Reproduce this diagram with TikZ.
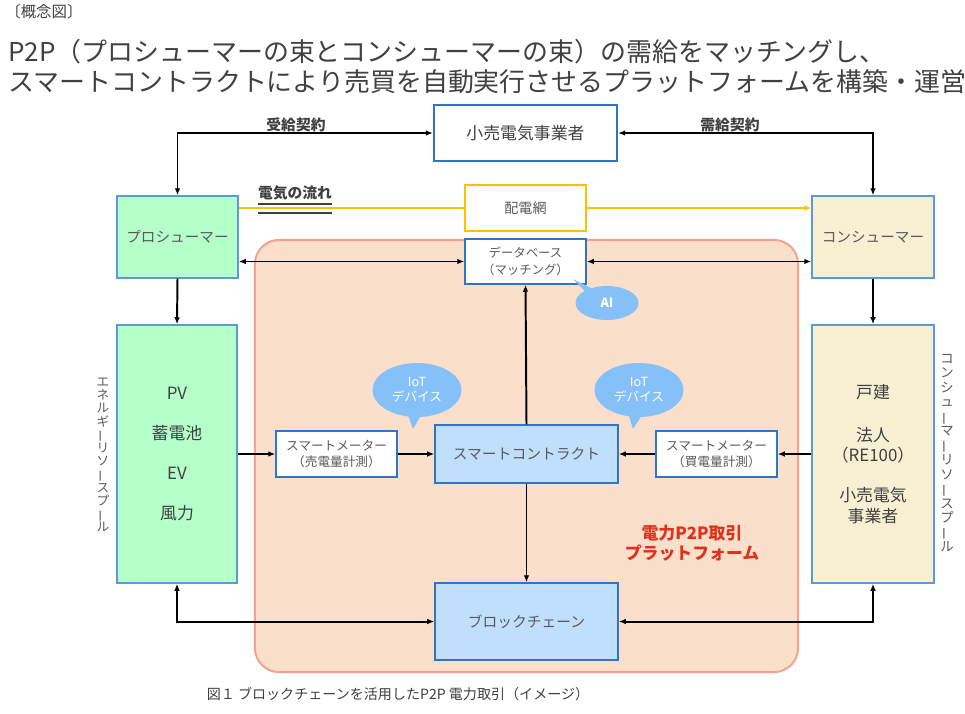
\documentclass[tikz,border=0pt]{standalone}
\usepackage{fontspec}
\setmainfont{Noto Sans CJK JP}
\usetikzlibrary{arrows.meta,shapes.callouts}

\definecolor{boxblue}{RGB}{91,155,213}
\definecolor{darkblue}{RGB}{46,117,198}
\definecolor{prosgreen}{RGB}{180,255,202}
\definecolor{conscream}{RGB}{248,240,210}
\definecolor{platfill}{RGB}{250,223,203}
\definecolor{platedge}{RGB}{246,160,145}
\definecolor{chainblue}{RGB}{192,223,252}
\definecolor{bubble}{RGB}{134,192,248}
\definecolor{gridorange}{RGB}{255,192,0}
\definecolor{textgray}{RGB}{89,89,89}
\definecolor{titlegray}{RGB}{64,64,64}
\definecolor{p2pred}{RGB}{222,50,30}

\newcommand{\choon}{\rotatebox[origin=c]{90}{ー}}

\begin{document}
\begin{tikzpicture}[x=0.025cm,y=-0.025cm,
    arr/.style={line width=1.4pt,-{Latex[length=5pt,width=4pt]}},
    biarr/.style={line width=1.4pt,{Latex[length=5pt,width=4pt]}-{Latex[length=5pt,width=4pt]}},
    box/.style={draw=boxblue,line width=1pt,text=textgray,align=center,inner sep=0pt},
    whitebox/.style={box,draw=darkblue,fill=white,minimum width=3.025cm,font=\fontsize{9}{11.4}\selectfont},
    bluebox/.style={box,draw=darkblue,fill=chainblue,minimum width=4.575cm,font=\fontsize{10.5}{12}\selectfont},
    iot/.style={ellipse callout,fill=bubble,text=white,inner sep=0pt,align=center,font=\fontsize{9}{10.7}\selectfont},
    lbl/.style={font=\bfseries\fontsize{10.5}{12}\selectfont,text=titlegray,inner sep=0pt},
    vlabel/.style={text=textgray,align=center,inner sep=0pt}]

\useasboundingbox (0,0) rectangle (965,713);

% Heading
\node[anchor=west,inner sep=0pt,font=\fontsize{11}{13}\selectfont,text=titlegray] (head) at (5,12) {〔概念図〕};
\node[anchor=north west,inner sep=0pt,align=left,font=\fontsize{18.45}{21.3}\selectfont,text=titlegray] (title) at (8,39)
  {P2P（プロシューマーの束とコンシューマーの束）の需給をマッチングし、\\スマートコントラクトにより売買を自動実行させるプラットフォームを構築・運営};

% Platform area
\node[draw=platedge,fill=platfill,line width=1.4pt,rounded corners=0.6cm,minimum width=13.575cm,minimum height=10.8cm] (plat) at (526.5,456) {};
\node[font=\bfseries\fontsize{12}{14.2}\selectfont,text=p2pred,align=center] (p2plbl) at (692,543) {電力P2P取引\\プラットフォーム};

% Boxes
\node[box,draw=darkblue,line width=1.6pt,minimum width=4.575cm,minimum height=1.4cm,font=\fontsize{12}{14}\selectfont,text=titlegray] (retail) at (525.5,133) {小売電気事業者};
\node[box,draw=gridorange,fill=white,minimum width=3.025cm,minimum height=1.15cm,font=\fontsize{10}{12}\selectfont] (grid) at (525.5,208) {配電網};
\node[box,fill=prosgreen,minimum width=3.025cm,minimum height=2.05cm,font=\fontsize{10.4}{12}\selectfont] (pros) at (177.5,237) {プロシューマー};
\node[box,fill=conscream,minimum width=3.05cm,minimum height=2.05cm,font=\fontsize{10.4}{12}\selectfont] (cons) at (873,237) {コンシューマー};
\node[whitebox,minimum height=1.125cm,font=\fontsize{8.8}{12}\selectfont] (db) at (525.5,261.5) {データベース\\（マッチング）};
\node[box,fill=prosgreen,minimum width=3cm,minimum height=6.45cm,font=\fontsize{12}{28.6}\selectfont,text=titlegray] (pvpool) at (177,454) {PV\\蓄電池\\EV\\風力};
\node[box,fill=conscream,minimum width=3.05cm,minimum height=6.45cm,font=\fontsize{12}{14.5}\selectfont,text=titlegray] (conspool) at (873,454)
  {戸建\\[16pt]法人\\（RE100）\\[14pt]小売電気\\事業者};
\node[whitebox,minimum height=1.15cm] (meterL) at (336.5,454) {スマートメーター\\（売電量計測）};
\node[whitebox,minimum height=1.15cm] (meterR) at (716.5,454) {スマートメーター\\（買電量計測）};
\node[bluebox,minimum height=1.45cm] (contract) at (526.5,454) {スマートコントラクト};
\node[bluebox,minimum height=1.925cm] (chain) at (526.5,621.5) {ブロックチェーン};

% Speech bubbles
\node[iot,minimum width=2.225cm,minimum height=1.35cm,callout absolute pointer={(413,429)}] (iotL) at (417,390) {IoT\\デバイス};
\node[iot,minimum width=2.225cm,minimum height=1.35cm,callout absolute pointer={(633,429)}] (iotR) at (639,390) {IoT\\デバイス};
\node[iot,minimum width=1.575cm,minimum height=0.85cm,font=\bfseries\fontsize{9}{10}\selectfont,callout absolute pointer={(573,279)}] (ai) at (607,303) {AI};

% Side labels
\node[vlabel,font=\fontsize{9}{9.4}\selectfont] (poolL) at (103,455) {エ\\ネ\\ル\\ギ\\\choon\\リ\\ソ\\\choon\\ス\\プ\\\choon\\ル};
\node[vlabel,font=\fontsize{9.5}{10.3}\selectfont] (poolR) at (947,453) {コ\\ン\\シ\\ュ\\\choon\\マ\\\choon\\リ\\ソ\\\choon\\ス\\プ\\\choon\\ル};

% Connector labels
\node[lbl] (recvlbl) at (296,125) {受給契約};
\node[lbl] (supplbl) at (730,125) {需給契約};
\node[lbl] (flowlbl) at (295,193) {電気の流れ};
\draw[titlegray,line width=1pt] ([yshift=-2.6pt]flowlbl.south west) -- ([yshift=-2.6pt]flowlbl.south east);
\draw[titlegray,line width=1pt] ([yshift=-9pt]flowlbl.south west) -- ([yshift=-9pt]flowlbl.south east);

% Contracts
\draw[biarr] (pros.north) |- (retail.west);
\draw[biarr] (retail.east) -| (cons.north);

% Power flow
\draw[gridorange,line width=1.2pt] (pros.east |- grid.west) -- (grid.west);
\draw[gridorange,arr,line width=1.2pt] (grid.east) -- (cons.west |- grid.east);

% Database links
\draw[biarr] (pros.east |- db.west) -- (db.west);
\draw[biarr] (db.east) -- (cons.west |- db.east);

% One-way links
\foreach \a/\b in {pros/pvpool, cons/conspool} \draw[arr] (\a.south) -- (\b.north);
\foreach \a/\b in {pvpool/meterL, meterL/contract} \draw[arr] (\a.east) -- (\b.west);
\foreach \a/\b in {conspool/meterR, meterR/contract} \draw[arr] (\a.west) -- (\b.east);
\draw[arr] (contract.north) -- (db.south);
\draw[arr] (contract.south) -- (chain.north);

% Blockchain links
\draw[biarr] (pvpool.south) |- (chain.west);
\draw[biarr] (chain.east) -| (conspool.south);

% Caption
\node[font=\fontsize{10}{12}\selectfont,text=titlegray] (caption) at (398,694) {図１ ブロックチェーンを活用したP2P 電力取引（イメージ）};

\end{tikzpicture}
\end{document}
